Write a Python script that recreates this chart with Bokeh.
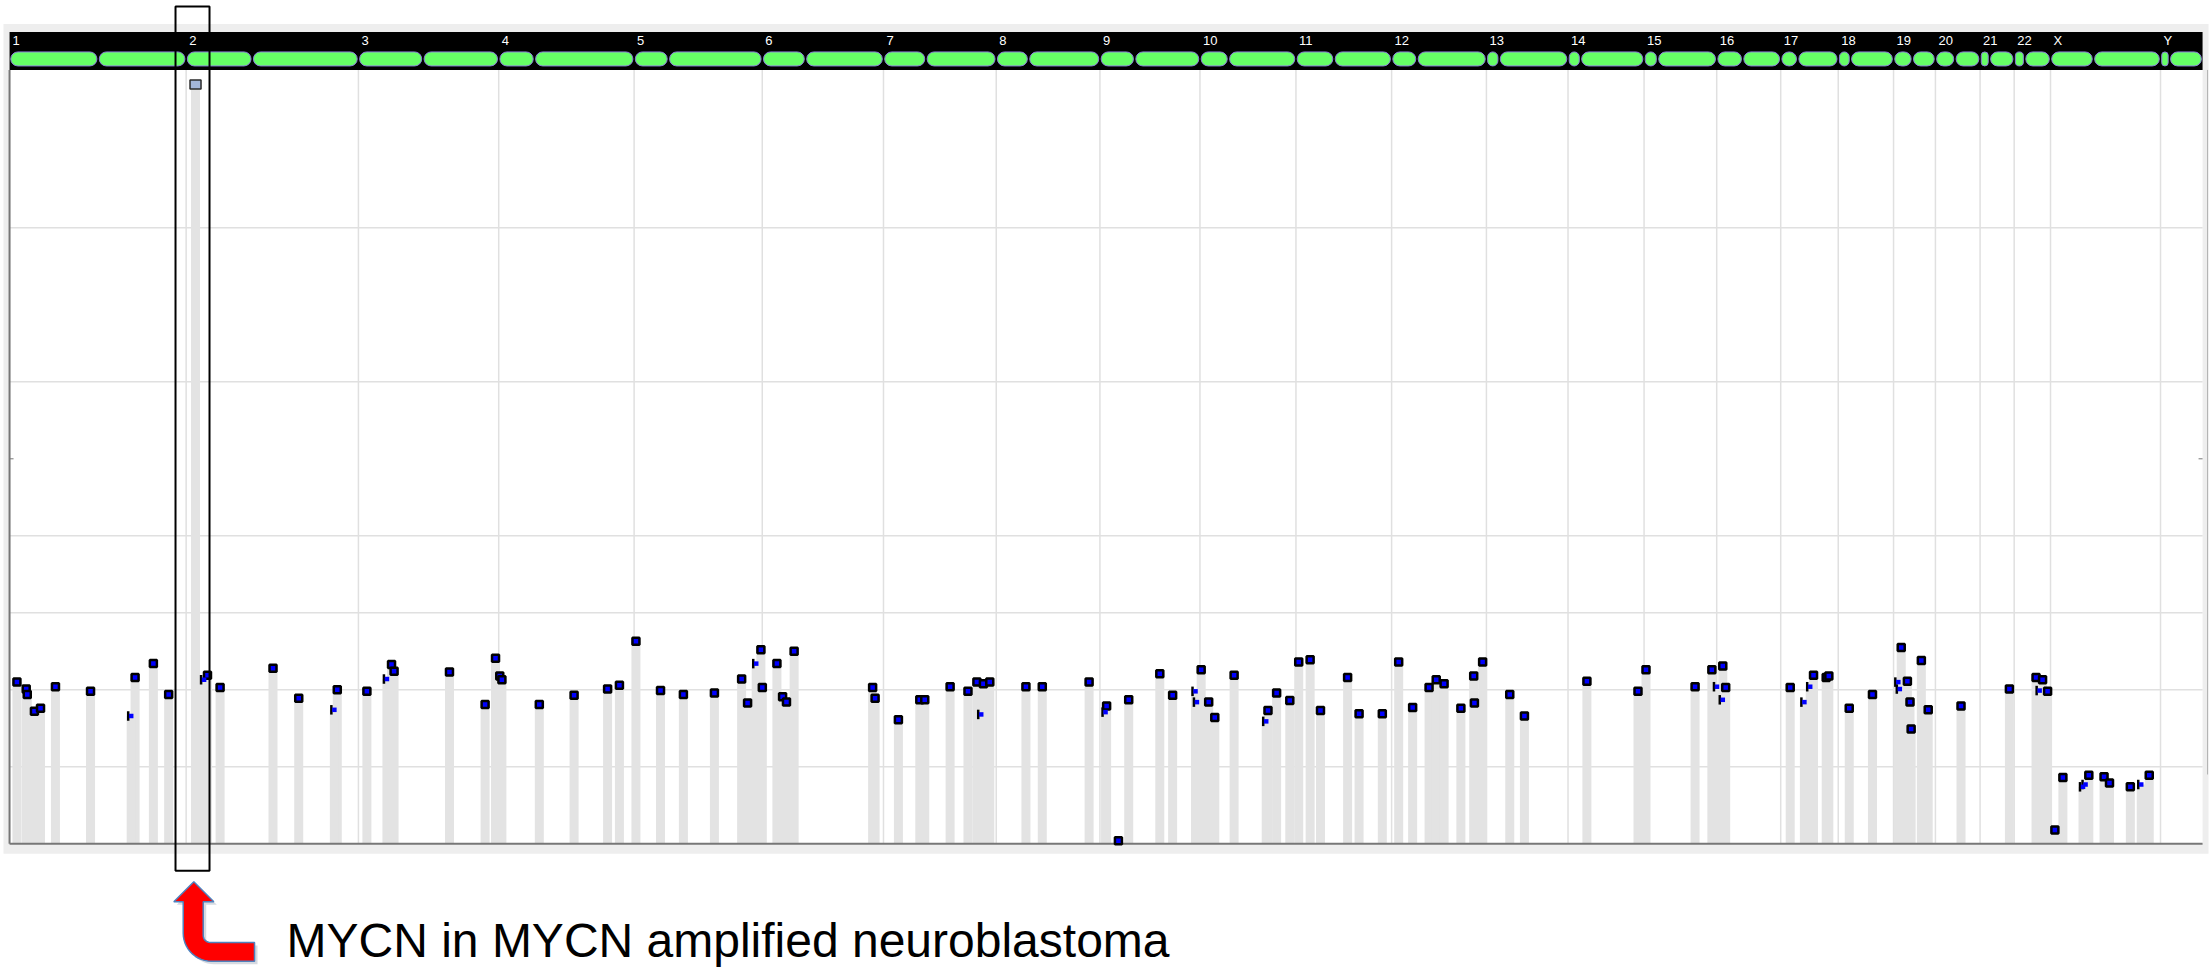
import numpy as np
from bokeh.plotting import figure
from bokeh.models import Range1d
from bokeh.core.properties import value
from bokeh.embed import file_html
from bokeh.resources import INLINE

# ---------------- data ----------------
CHROMS = ["1", "2", "3", "4", "5", "6", "7", "8", "9", "10", "11", "12",
          "13", "14", "15", "16", "17", "18", "19", "20", "21", "22", "X", "Y"]
CHROM_LEN_MB = [249.25, 243.20, 198.02, 191.15, 180.92, 171.12, 159.14, 146.36,
                141.21, 135.53, 135.01, 133.85, 115.17, 107.35, 102.53, 90.35,
                81.20, 78.08, 59.13, 63.03, 48.13, 51.30, 155.27, 59.37]
CENTROMERE_MB = [125.0, 93.3, 91.0, 50.4, 48.4, 61.0, 59.9, 45.6, 49.0, 40.2,
                 53.7, 35.8, 17.9, 17.6, 19.0, 36.6, 24.0, 17.2, 26.5, 27.5,
                 13.2, 14.7, 60.6, 12.5]
GRID_CN = [1, 2, 3, 4, 6, 8]
CN_MAX = 10.05

# probes (cumulative genome position in Mb, copy number)
PROBE_POS_MB = [10.4, 23.5, 25.0, 35.1, 43.7, 64.8, 114.3, 177.2, 203.0, 224.6,
                279.4, 297.2, 371.9, 408.2, 462.6, 504.4, 539.2, 542.8, 621.0, 671.3,
                686.0, 692.0, 695.0, 747.8, 796.9, 844.2, 860.9, 884.2, 918.9, 951.2,
                995.0, 1033.4, 1041.8, 1060.6, 1062.6, 1083.2, 1091.2, 1096.7, 1107.5, 1218.3,
                1221.8, 1254.7, 1284.9, 1291.9, 1327.7, 1352.9, 1365.5, 1374.7, 1383.7, 1434.7,
                1457.8, 1523.9, 1548.6, 1565.3, 1579.8, 1623.7, 1641.8, 1682.1, 1692.7, 1701.3,
                1728.6, 1776.4, 1788.6, 1807.2, 1819.8, 1835.9, 1850.5, 1888.8, 1905.0, 1937.8,
                1960.9, 1980.6, 2003.8, 2013.9, 2025.0, 2048.7, 2066.8, 2067.8, 2079.4, 2117.7,
                2138.4, 2226.6, 2298.7, 2310.0, 2379.3, 2403.0, 2418.4, 2422.5, 2513.6, 2546.5,
                2564.4, 2568.1, 2596.9, 2629.7, 2670.3, 2679.0, 2682.7, 2684.3, 2698.7, 2708.4,
                2754.7, 2823.0, 2860.6, 2869.8, 2876.9, 2887.2, 2898.5, 2935.1, 2956.6, 2964.3,
                2993.7, 3020.4]
PROBE_CN = [2.10, 2.01, 1.94, 1.72, 1.76, 2.04, 1.98, 2.16, 2.34, 1.94,
            2.19, 2.03, 2.28, 1.89, 2.00, 1.98, 2.33, 2.24, 2.23, 1.81,
            2.41, 2.18, 2.13, 1.81, 1.93, 2.01, 2.06, 2.63, 1.99, 1.94,
            1.96, 2.14, 1.83, 2.52, 2.03, 2.34, 1.91, 1.84, 2.50, 2.03,
            1.89, 1.61, 1.87, 1.87, 2.04, 1.98, 2.10, 2.08, 2.10, 2.04,
            2.04, 2.10, 1.79, 0.04, 1.87, 2.21, 1.93, 2.26, 1.84, 1.64,
            2.19, 1.73, 1.96, 1.86, 2.36, 2.39, 1.73, 2.16, 1.69, 1.69,
            2.36, 1.77, 2.03, 2.13, 2.08, 1.76, 2.18, 1.83, 2.36, 1.94,
            1.66, 2.11, 1.98, 2.26, 2.04, 2.26, 2.31, 2.03, 2.03, 2.19,
            2.16, 2.18, 1.76, 1.94, 2.55, 2.11, 1.84, 1.49, 2.38, 1.74,
            1.79, 2.01, 2.16, 2.13, 1.98, 0.18, 0.86, 0.89, 0.87, 0.79,
            0.74, 0.89]
# probes whose marker is partly hidden
PARTIAL_POS_MB = [171.7, 274.6, 458.5, 532.7, 1054.0, 1371.6, 1547.1, 1674.1, 1676.1, 1773.9,
                  2410.2, 2418.4, 2533.6, 2541.8, 2666.2, 2668.3, 2865.7, 2926.9, 2930.5, 3009.1]
PARTIAL_CN = [1.66, 2.13, 1.74, 2.14, 2.34, 1.68, 1.71, 1.98, 1.84, 1.59,
              2.04, 1.87, 1.84, 2.04, 2.10, 2.01, 1.99, 0.74, 0.77, 0.77]
MYCN_POS_MB = 262.5
MYCN_CN = 9.86
ANNOTATION = "MYCN in MYCN amplified neuroblastoma"

# ---------------- figure ----------------
W, H = 2211, 968
X0, X1 = -12.79, 3108.28
Y0, Y1 = -1.6195, 10.9519
mbpx = (X1 - X0) / W
cnpx = (Y1 - Y0) / H

starts = np.concatenate([[0.0], np.cumsum(CHROM_LEN_MB)[:-1]])
ends = starts + np.array(CHROM_LEN_MB)
total = float(ends[-1])

p = figure(width=W, height=H, x_range=Range1d(X0, X1), y_range=Range1d(Y0, Y1),
           output_backend="svg", toolbar_location=None,
           x_axis_type=None, y_axis_type=None, min_border=0)
p.outline_line_color = None
p.background_fill_color = "white"
p.border_fill_color = "white"

banner_top = CN_MAX + 38 * cnpx

# panel background and plotting area
p.quad(left=X0 + 3 * mbpx, right=X1 - 3 * mbpx, bottom=-10 * cnpx, top=banner_top + 8 * cnpx,
       fill_color="#eeeeee", line_color=None)
p.quad(left=0, right=total, bottom=0, top=CN_MAX, fill_color="white", line_color=None)
p.segment(x0=[total + 5 * mbpx], x1=[total + 5 * mbpx], y0=[0.9], y1=[CN_MAX],
          line_color="#b0b0b0", line_width=1)

# grid
n = len(GRID_CN)
p.segment(x0=[0] * n, x1=[total] * n, y0=GRID_CN, y1=GRID_CN,
          line_color="#e0e0e0", line_width=1.5)
p.segment(x0=starts[1:], x1=starts[1:], y0=[0] * (len(starts) - 1),
          y1=[CN_MAX] * (len(starts) - 1), line_color="#e0e0e0", line_width=1.5)

# bars
all_pos = PROBE_POS_MB + PARTIAL_POS_MB + [MYCN_POS_MB]
all_cn = PROBE_CN + PARTIAL_CN + [MYCN_CN]
p.vbar(x=all_pos, top=all_cn, bottom=0, width=9 * mbpx,
       fill_color="#e3e3e3", line_color=None)

# axis lines
p.segment(x0=[0, 0], y0=[0, 0], x1=[0, total], y1=[CN_MAX, 0],
          line_color="#777777", line_width=2)
p.segment(x0=[0, total], x1=[0 + 4 * mbpx, total - 4 * mbpx], y0=[5, 5], y1=[5, 5],
          line_color="#777777", line_width=1)

# chromosome banner
p.quad(left=0, right=total, bottom=CN_MAX, top=banner_top, fill_color="black", line_color=None)
g = 1.2 * mbpx
lefts, rights = [], []
for s, L, c in zip(starts, CHROM_LEN_MB, CENTROMERE_MB):
    lefts += [s + g, s + c + g]
    rights += [s + c - g, s + L - g]
p.quad(left=lefts, right=rights, bottom=CN_MAX + 4 * cnpx, top=CN_MAX + 18 * cnpx,
       fill_color="#66ff66", line_color="#8c7ddc", line_width=1, border_radius=7)
p.text(x=starts, y=[CN_MAX + 29 * cnpx] * len(starts), text=CHROMS, x_offset=3,
       text_color="white", text_font=value("Liberation Sans"), text_font_size="13px",
       text_baseline="middle", text_align="left")

# probe markers
p.scatter(x=PROBE_POS_MB, y=PROBE_CN, marker="square", size=7,
          fill_color="#0000ff", line_color="black", line_width=2.5)
p.rect(x=list(np.array(PARTIAL_POS_MB) - 3 * mbpx), y=PARTIAL_CN, width=2.5, height=9.5,
       width_units="screen", height_units="screen", fill_color="black", line_color=None)
p.scatter(x=PARTIAL_POS_MB, y=PARTIAL_CN, marker="square", size=4.5,
          fill_color="#0000ff", line_color=None)
p.rect(x=[MYCN_POS_MB], y=[MYCN_CN], width=11, height=9, width_units="screen",
       height_units="screen", fill_color="#a4b6da", line_color="#2b2b2b", line_width=1.5)

# highlight box
p.quad(left=MYCN_POS_MB - 20 * mbpx, right=MYCN_POS_MB + 14 * mbpx,
       bottom=-27 * cnpx, top=Y1 - 6 * cnpx,
       fill_color=None, line_color="black", line_width=2)

# red arrow (pixel offsets right / down from the MYCN bar base)
pts = [(-1.7, 38.0), (18.3, 58.0), (7.7, 58.0), (7.7, 91.7)]
for t in np.linspace(np.pi, np.pi / 2, 8)[1:]:
    pts.append((14.7 + 7 * np.cos(t), 91.7 + 7 * np.sin(t)))
pts += [(59.0, 98.7), (59.0, 117.4)]
for t in np.linspace(np.pi / 2, np.pi, 14):
    pts.append((15.7 + 28 * np.cos(t), 89.4 + 28 * np.sin(t)))
pts += [(-12.3, 58.0), (-21.7, 58.0)]
sx = [MYCN_POS_MB + (dx + 3) * mbpx for dx, dy in pts]
sy = [-(dy + 3) * cnpx for dx, dy in pts]
p.patch(x=sx, y=sy, fill_color="#8a94a8", fill_alpha=0.35, line_color=None)
ax = [MYCN_POS_MB + dx * mbpx for dx, dy in pts]
ay = [-dy * cnpx for dx, dy in pts]
p.patch(x=ax, y=ay, fill_color="#ff0000", line_color="#4f81bd", line_width=1.5)

p.text(x=[MYCN_POS_MB + 91 * mbpx], y=[-96.5 * cnpx], text=[ANNOTATION],
       text_font=value("Liberation Sans"), text_font_size="48px", text_color="black",
       text_baseline="alphabetic", text_align="left")

open("out.html", "w").write(file_html(p, INLINE))
